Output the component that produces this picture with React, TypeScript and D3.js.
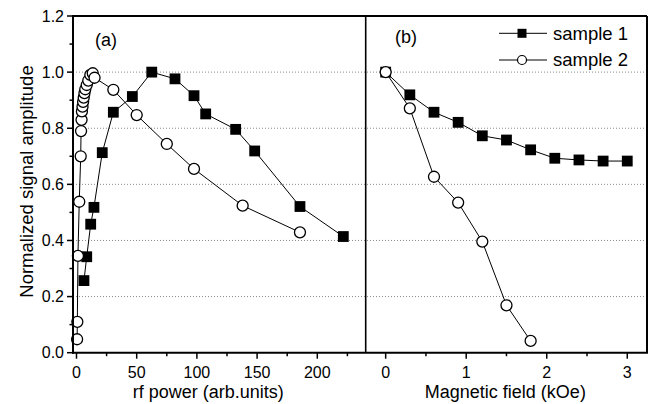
import React from "react";
import * as d3 from "d3";

// Panel (a): rf power dependence
const rfSample1X = [6.2, 8.5, 11.8, 14.5, 21.4, 30.6, 46.4, 62.5, 81.8, 97.6, 107.3, 132.2, 148, 185.6, 221.6];
const rfSample1Y = [0.257, 0.342, 0.458, 0.518, 0.713, 0.857, 0.913, 1.0, 0.976, 0.916, 0.851, 0.796, 0.719, 0.521, 0.414];
const rfSample2X = [0.5, 0.7, 1.2, 2.3, 3.5, 3.8, 4.2, 4.5, 5.0, 5.5, 6.0, 6.6, 7.3, 8.5, 9.8, 11.5, 13.5, 15.0, 30.6, 50, 75, 97.6, 138, 185.6];
const rfSample2Y = [0.048, 0.11, 0.345, 0.538, 0.70, 0.79, 0.83, 0.86, 0.877, 0.894, 0.909, 0.925, 0.939, 0.954, 0.97, 0.99, 0.996, 0.98, 0.937, 0.847, 0.744, 0.655, 0.524, 0.429];

// Panel (b): magnetic field dependence
const fieldSample1X = [0, 0.3, 0.6, 0.9, 1.2, 1.5, 1.8, 2.1, 2.4, 2.7, 3.0];
const fieldSample1Y = [1.0, 0.919, 0.857, 0.821, 0.773, 0.758, 0.723, 0.693, 0.687, 0.683, 0.683];
const fieldSample2X = [0, 0.3, 0.6, 0.9, 1.2, 1.5, 1.8];
const fieldSample2Y = [1.0, 0.871, 0.627, 0.535, 0.396, 0.169, 0.042];

const yTicks = [0, 0.2, 0.4, 0.6, 0.8, 1.0, 1.2];
const yMinorTicks = [0.1, 0.3, 0.5, 0.7, 0.9, 1.1];
const gridValues = [0.2, 0.4, 0.6, 0.8, 1.0];
const rfTicks = [0, 50, 100, 150, 200];
const rfMinorTicks = [25, 75, 125, 175, 225];
const fieldTicks = [0, 1, 2, 3];
const fieldMinorTicks = [0.5, 1.5, 2.5];
const seriesNames = ["sample 1", "sample 2"];

const W = 657;
const H = 404;
const left = 73;
const divider = 365.7;
const right = 647;
const top = 16;
const bottom = 352.7;
const FONT = "'Liberation Sans', Arial, Helvetica, sans-serif";

export default function App() {
  const y = d3.scaleLinear().domain([0, 1.2]).range([bottom, top]);
  const xa = d3.scaleLinear().domain([-2.9, 240.2]).range([left, divider]);
  const xb = d3.scaleLinear().domain([-0.248, 3.245]).range([divider, right]);

  const toPts = (xs: number[], ys: number[]) => xs.map((v, i) => [v, ys[i]] as [number, number]);
  const lineA = d3.line<[number, number]>().x((d) => xa(d[0])).y((d) => y(d[1]));
  const lineB = d3.line<[number, number]>().x((d) => xb(d[0])).y((d) => y(d[1]));

  const s1a = toPts(rfSample1X, rfSample1Y);
  const s2a = toPts(rfSample2X, rfSample2Y);
  const s1b = toPts(fieldSample1X, fieldSample1Y);
  const s2b = toPts(fieldSample2X, fieldSample2Y);

  const sq = 10.8;
  const cr = 5.5;

  const squares = (pts: [number, number][], xs: d3.ScaleLinear<number, number>) =>
    pts.map((d, i) => (
      <rect key={i} x={xs(d[0]) - sq / 2} y={y(d[1]) - sq / 2} width={sq} height={sq} fill="#000" />
    ));
  const circles = (pts: [number, number][], xs: d3.ScaleLinear<number, number>) =>
    pts.map((d, i) => (
      <circle key={i} cx={xs(d[0])} cy={y(d[1])} r={cr} fill="#fff" stroke="#000" strokeWidth={1.3} />
    ));

  return (
    <svg width={W} height={H} style={{ position: "absolute", left: 0, top: 0, background: "#fff" }} fontFamily={FONT}>
      <rect x={0} y={0} width={W} height={H} fill="#fff" />
      {/* grid */}
      {gridValues.map((g) => (
        <line key={g} x1={left} x2={right} y1={y(g)} y2={y(g)} stroke="#888" strokeWidth={1} strokeDasharray="1,2" />
      ))}

      {/* panel a data */}
      <path d={lineA(s1a) || ""} fill="none" stroke="#000" strokeWidth={1} />
      {squares(s1a, xa)}
      <path d={lineA(s2a) || ""} fill="none" stroke="#000" strokeWidth={1} />
      {circles(s2a, xa)}

      {/* panel b data */}
      <path d={lineB(s1b) || ""} fill="none" stroke="#000" strokeWidth={1} />
      {squares(s1b, xb)}
      <path d={lineB(s2b) || ""} fill="none" stroke="#000" strokeWidth={1} />
      {circles(s2b, xb)}

      {/* frame */}
      <line x1={left} x2={right} y1={top} y2={top} stroke="#000" strokeWidth={2} />
      <line x1={right} x2={right} y1={top} y2={bottom} stroke="#000" strokeWidth={2} />
      <line x1={divider} x2={divider} y1={top} y2={bottom} stroke="#000" strokeWidth={1.6} />
      <line x1={left} x2={left} y1={top - 1} y2={bottom + 1} stroke="#000" strokeWidth={2} />
      <line x1={left - 1} x2={right + 1} y1={bottom} y2={bottom} stroke="#000" strokeWidth={2} />

      {/* y ticks */}
      {yTicks.map((t) => (
        <g key={t}>
          <line x1={left - 6} x2={left} y1={y(t)} y2={y(t)} stroke="#000" strokeWidth={1.5} />
          <text x={left - 9} y={y(t)} dy="0.35em" textAnchor="end" fontSize={16}>
            {t.toFixed(1)}
          </text>
        </g>
      ))}
      {yMinorTicks.map((t) => (
        <line key={t} x1={left - 3.5} x2={left} y1={y(t)} y2={y(t)} stroke="#000" strokeWidth={1.5} />
      ))}

      {/* x ticks panel a */}
      {rfTicks.map((t) => (
        <g key={t}>
          <line x1={xa(t)} x2={xa(t)} y1={bottom} y2={bottom + 6} stroke="#000" strokeWidth={1.5} />
          <text x={xa(t)} y={bottom + 25} textAnchor="middle" fontSize={16}>
            {t}
          </text>
        </g>
      ))}
      {rfMinorTicks.map((t) => (
        <line key={t} x1={xa(t)} x2={xa(t)} y1={bottom} y2={bottom + 3.5} stroke="#000" strokeWidth={1.5} />
      ))}

      {/* x ticks panel b */}
      {fieldTicks.map((t) => (
        <g key={t}>
          <line x1={xb(t)} x2={xb(t)} y1={bottom} y2={bottom + 6} stroke="#000" strokeWidth={1.5} />
          <text x={xb(t)} y={bottom + 25} textAnchor="middle" fontSize={16}>
            {t}
          </text>
        </g>
      ))}
      {fieldMinorTicks.map((t) => (
        <line key={t} x1={xb(t)} x2={xb(t)} y1={bottom} y2={bottom + 3.5} stroke="#000" strokeWidth={1.5} />
      ))}

      {/* axis titles */}
      <text x={(left + divider) / 2 - 11} y={H - 6} textAnchor="middle" fontSize={18}>
        rf power (arb.units)
      </text>
      <text x={(divider + right) / 2 - 1} y={H - 6} textAnchor="middle" fontSize={18}>
        Magnetic field (kOe)
      </text>
      <text
        transform={`translate(27, ${(60 + 303) / 2}) rotate(-90)`}
        textAnchor="middle"
        dy="0.35em"
        fontSize={18.5}
      >
        Normalized signal amplitude
      </text>

      {/* panel labels */}
      <text x={95} y={46} fontSize={18}>(a)</text>
      <text x={395} y={43} fontSize={18}>(b)</text>

      {/* legend */}
      <g>
        <line x1={499} x2={547} y1={33.3} y2={33.3} stroke="#000" strokeWidth={1} />
        <rect x={522 - 4.5} y={33.3 - 4.5} width={9} height={9} fill="#000" />
        <text x={553} y={33.3} dy="0.35em" fontSize={18.5}>{seriesNames[0]}</text>
        <line x1={499} x2={547} y1={60} y2={60} stroke="#000" strokeWidth={1} />
        <circle cx={522} cy={60} r={4.5} fill="#fff" stroke="#000" strokeWidth={1.2} />
        <text x={553} y={60} dy="0.35em" fontSize={18.5}>{seriesNames[1]}</text>
      </g>
    </svg>
  );
}
